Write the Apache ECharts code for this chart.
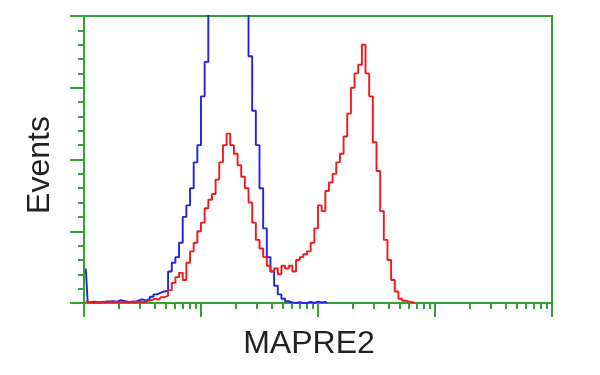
<!DOCTYPE html>
<html>
<head>
<meta charset="utf-8">
<script src="https://cdn.jsdelivr.net/npm/echarts@6/dist/echarts.min.js"></script>
<style>html,body{margin:0;padding:0;background:#fff;}#chart{width:600px;height:375px;}</style>
</head>
<body>
<div id="chart"></div>
<script>
// Histogram bins: 32 bins per decade over 4 log decades (channel centres); bins past the end of each list are empty
const binsPerDecade = 32;
const decades = 4;
// Events per bin (y scale 0..100, values above 100 are off-scale)
const blueCounts = [
  12, 0.3, 0.5, 0.2, 0.4, 0.3, 0.5, 0.6, 0.4, 1.0, 0.7, 0.3, 0.5, 0.4, 0.9, 1.3,
  0.8, 1.4, 2.2, 3.0, 3.6, 4.0, 4.3, 11, 14, 16, 21, 30, 34, 40, 49, 55,
  72, 84, 112, 130, 145, 152, 156, 150, 140, 128, 116, 108, 102, 86, 67, 55,
  40, 26, 16, 11, 6, 3, 1.5, 0.6, 0.2, 0, 0.3, 0, 0, 0.4, 0, 0.5,
  0.2, 0.4, 0
];
const redCounts = [
  0.5, 0.2, 0, 0.3, 0.2, 0.4, 0.6, 0.3, 0.5, 0.2, 0.4, 0.6, 0.3, 0.5, 0.4, 0.5,
  0.3, 0.8, 1.0, 1.5, 1.2, 2.0, 2.6, 4.5, 7, 9, 10.5, 8, 14, 18, 21, 25,
  28, 33, 36, 38, 43, 49, 55, 59, 55, 52, 48, 44, 40, 35, 28, 22,
  19, 16, 13, 11, 12, 10, 13, 12, 13, 11, 15, 16, 17, 18, 21, 26,
  34, 32, 39, 42, 45, 49, 52, 58, 66, 75, 80, 83, 90, 80, 72, 56,
  46, 32, 22, 15, 8, 4, 1.5, 0.8, 0.5, 0.2, 0
];
const yMax = 100;
const yInterval = 25;
const minorMultipliers = [2, 3, 4, 5, 6, 7, 8, 9];
const xName = 'MAPRE2';
const yName = 'Events';

const green = '#35a035';
const toPairs = arr => arr.map((v, i) => [(i + 0.5) / binsPerDecade, v]);
const minorTicks = [];
for (let d = 0; d < decades; d++) {
  minorMultipliers.forEach(m => minorTicks.push(d + Math.log10(m)));
}

const chart = echarts.init(document.getElementById('chart'), null, {renderer: 'canvas'});
chart.setOption({
  animation: false,
  backgroundColor: '#ffffff',
  grid: {left: 84, right: 48, top: 16, bottom: 72, show: true, borderColor: green, borderWidth: 2, backgroundColor: 'transparent'},
  xAxis: [{
    type: 'value', min: 0, max: decades, interval: 1,
    name: xName, nameLocation: 'middle', nameGap: 25,
    nameTextStyle: {fontFamily: 'Liberation Sans', fontSize: 32, color: '#222', lineHeight: 32, padding: [0, 18, 0, 0]},
    axisLine: {show: true, lineStyle: {color: green, width: 2}},
    axisTick: {show: true, length: 14, lineStyle: {color: green, width: 2}},
    axisLabel: {show: false}, splitLine: {show: false}
  }, {
    type: 'value', min: 0, max: decades, position: 'bottom', offset: 0,
    axisLine: {show: false},
    axisTick: {show: true, length: 6, customValues: minorTicks, lineStyle: {color: green, width: 2}},
    axisLabel: {show: false}, splitLine: {show: false}
  }],
  yAxis: {
    type: 'value', min: 0, max: yMax, interval: yInterval,
    name: yName, nameLocation: 'middle', nameGap: 28, nameRotate: 90,
    nameTextStyle: {fontFamily: 'Liberation Sans', fontSize: 32, color: '#222', lineHeight: 32, padding: [0, 11, 0, 0]},
    axisLine: {show: true, lineStyle: {color: green, width: 2}},
    axisTick: {show: true, length: 14, lineStyle: {color: green, width: 2}},
    minorTick: {show: true, splitNumber: 5, length: 6, lineStyle: {color: green, width: 2}},
    axisLabel: {show: false}, splitLine: {show: false}, minorSplitLine: {show: false}
  },
  series: [{
    type: 'line', name: 'control', step: 'middle', showSymbol: false, symbol: 'none',
    data: toPairs(blueCounts), clip: true,
    lineStyle: {color: '#2222e6', width: 1.9}
  }, {
    type: 'line', name: 'MAPRE2', step: 'middle', showSymbol: false, symbol: 'none',
    data: toPairs(redCounts), clip: true,
    lineStyle: {color: '#f01818', width: 1.9}
  }]
});
</script>
</body>
</html>
